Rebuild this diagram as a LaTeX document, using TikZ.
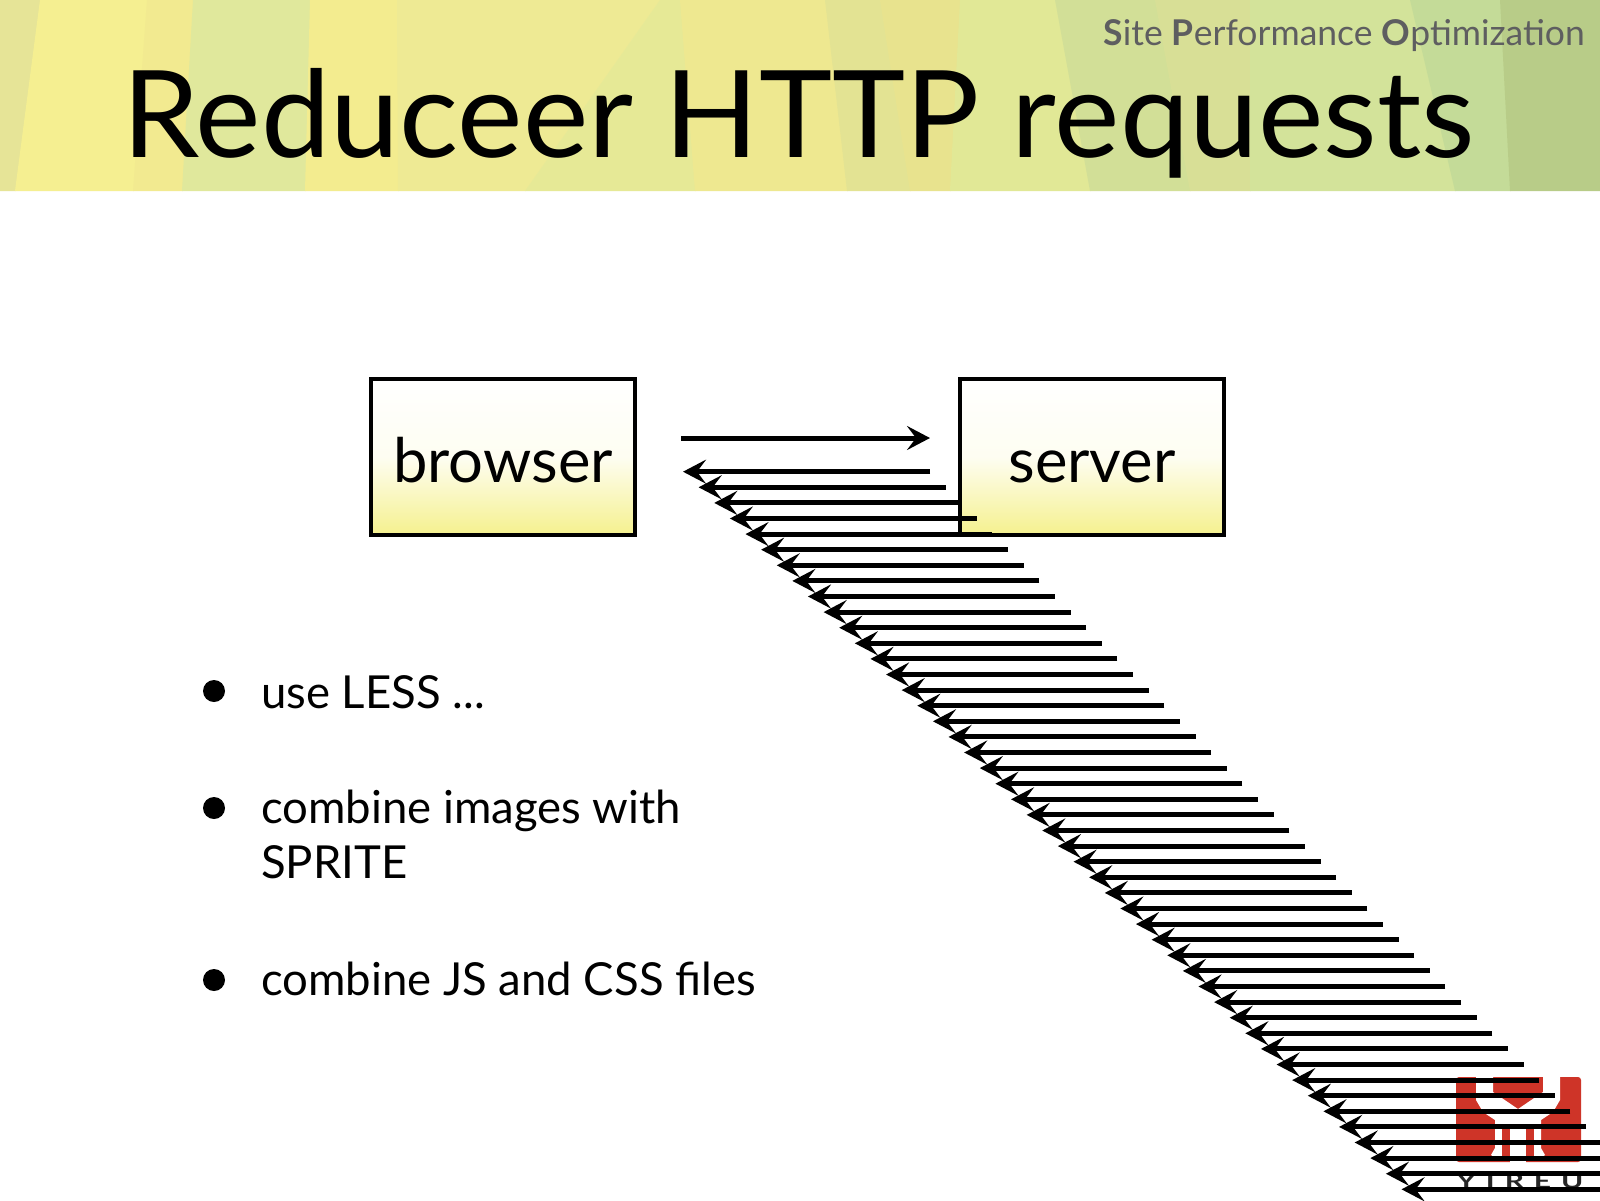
\documentclass[tikz,border=0pt]{standalone}
\usepackage{fontspec}
\setmainfont{Lato}
\usetikzlibrary{positioning,arrows,arrows.meta,shapes}
\definecolor{boxyellow}{HTML}{F5F18E}
\definecolor{logored}{HTML}{CE3428}
\definecolor{spogray}{HTML}{5E5E60}
\tikzset{
    boxnode/.style={rectangle, draw=black, line width=3.2pt, top color=white, bottom color=boxyellow, middle color=white!88!boxyellow, minimum width=264pt, minimum height=156pt, inner sep=0pt, text height=50pt, text depth=0pt, font=\fontsize{61.5}{62}\selectfont},
    bulletdot/.style={circle, fill=black, minimum size=22pt, inner sep=0pt},
    itemtext/.style={anchor=base west, inner sep=0pt, align=left, font=\fontsize{45.5}{55}\selectfont},
    msgline/.style={line width=5pt, -{Stealth[length=23pt, width=24pt, inset=9pt]}},
}
\begin{document}
\begin{tikzpicture}[x=1pt, y=-1pt]
    \useasboundingbox (0,0) rectangle (1600,1200);
    \begin{scope}
    \clip (0,0) rectangle (1600,1200);

    % Header band
    \fill[white] (0,0) rectangle (1600,1200);
    \foreach \topl/\topr/\botl/\botr/\col in {
        0/40/0/15/E6E497, 40/147/15/133/F5EF91, 147/193/133/182/F2EA90,
        193/310/182/305/E0E89C, 310/397/305/398/F3EC8F, 397/660/398/525/EEEA94,
        660/680/525/695/E6E996, 680/825/695/847/EEE890, 825/880/847/910/E3E393,
        880/960/910/950/E8E38E, 960/1055/950/1090/E1E896, 1055/1155/1090/1190/D2DF97,
        1155/1250/1190/1250/D8DF96, 1250/1410/1250/1455/D3E39A,
        1410/1500/1455/1510/C4DB98, 1500/1600/1510/1600/B8CC88} {
        \definecolor{stripecol}{HTML}{\col}
        \fill[stripecol] (\topl,0) -- (\topr+0.5,0) -- (\botr+0.5,191) -- (\botl,191) -- cycle;
    }

    \node[anchor=base west, inner sep=0pt, xscale=1.023, font=\fontsize{121}{121}\selectfont] (title) at (122,157) {Reduceer HTTP requests};
    \node[anchor=base east, inner sep=0pt, text=spogray, font=\fontsize{35.5}{36}\selectfont] (sitename) at (1585,45) {{\bfseries S}ite {\bfseries P}erformance {\bfseries O}ptimization};

    % Browser and server
    \node[boxnode] (browser) at (503,457) {browser};
    \node[boxnode] (server) at (1092,457) {server};

    % Bullet list
    \node[bulletdot] (dota) at (214,691) {};
    \node[bulletdot] (dotb) at (214,808) {};
    \node[bulletdot] (dotc) at (214,980) {};
    \node[itemtext] (itema) at (261,708) {use LESS ...};
    \node[itemtext] (itemb) at (261,878) {combine images with\\SPRITE};
    \node[itemtext] (itemc) at (261,995) {combine JS and CSS files};

    % Logo
    \begin{scope}[shift={(1450,1070)}]
    \fill[logored, rounded corners=3pt] (6,7) rectangle (131,92);
    \fill[white] (26,5) -- (26,30) -- (33,42) -- (45,50) -- (45,78) -- (41,85) -- (46,88) -- (60,88) -- (60,94) -- (76,94) -- (76,88) -- (91,88) -- (95,85) -- (91,78) -- (91,50) -- (103,42) -- (110,30) -- (110,5) -- (93,5) -- (93,22) -- (68,39) -- (43,22) -- (43,5) -- cycle;
    \fill[logored] (52,57) rectangle (60,92);
    \fill[logored] (76,57) rectangle (84,92);
    \node[inner sep=0pt, text=black!85, font=\fontsize{20}{20}\selectfont\bfseries\addfontfeature{LetterSpace=33}, xscale=1.5] (yireu) at (70,111) {YIREU};
    \end{scope}

    % Request and responses
    \coordinate (reqstart) at (681,438);
    \coordinate (reqend) at (930,438);
    \draw[msgline] (reqstart) -- (reqend);
    \foreach \i in {0,...,46} {
        \coordinate (resptail\i) at ({930+15.62*\i},{471.7+15.6*\i});
        \coordinate (resptip\i) at ({683+15.62*\i},{471.7+15.6*\i});
        \draw[msgline] (resptail\i) -- (resptip\i);
    }
    \end{scope}
\end{tikzpicture}
\end{document}
